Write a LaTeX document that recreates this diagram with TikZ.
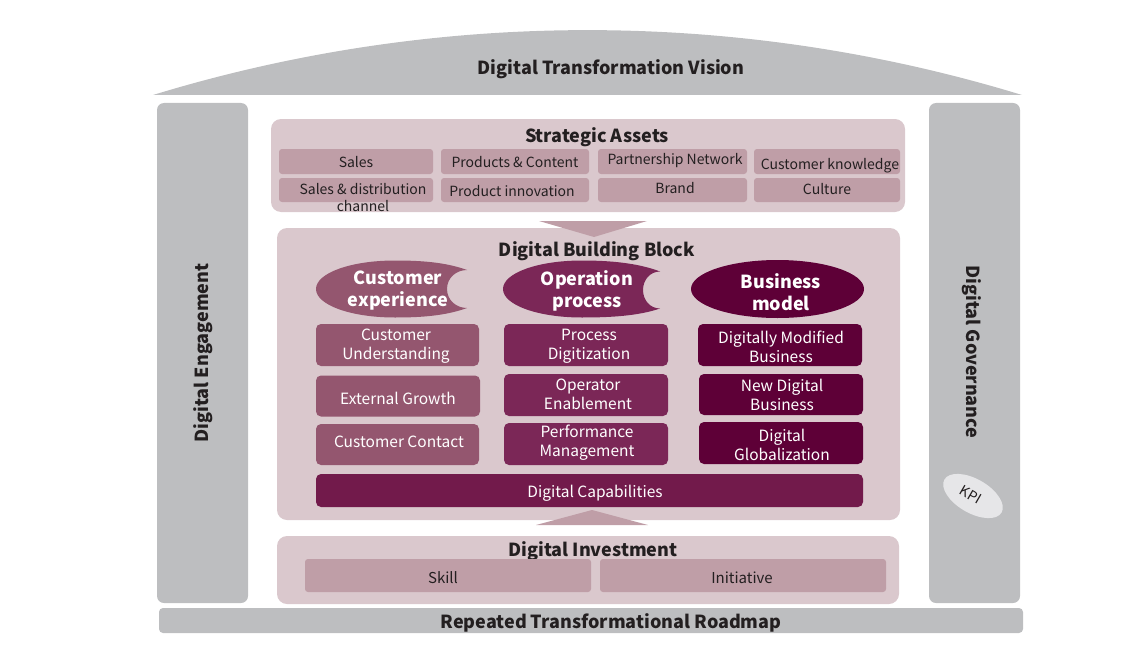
\documentclass[tikz,border=0pt]{standalone}
\usepackage{fontspec}
\setmainfont{Noto Sans CJK KR}
\usetikzlibrary{shapes.geometric}
\definecolor{pillar}{HTML}{BDBEC0}
\definecolor{panel}{HTML}{DAC8CD}
\definecolor{sub}{HTML}{BF9EA7}
\definecolor{cone}{HTML}{94566F}
\definecolor{ctwo}{HTML}{7B2757}
\definecolor{cthree}{HTML}{5E0037}
\definecolor{ccap}{HTML}{721A4B}
\definecolor{kpic}{HTML}{E6E6E8}
\definecolor{ink}{HTML}{231F20}
\begin{document}
\begin{tikzpicture}[x=1pt,y=-1pt,
  every node/.style={inner sep=0pt, text=ink},
  tx/.style={yshift=-2pt, align=center},
  title/.style={tx, font=\bfseries\fontsize{18}{21}\selectfont},
  pillarbox/.style={fill=pillar, rounded corners=7pt},
  panelbox/.style={fill=panel, rounded corners=10pt},
  subbox/.style={fill=sub, rounded corners=3pt},
  subtext/.style={align=center, yshift=-0.5pt, font=\fontsize{14}{17}\selectfont},
  colbox/.style={rounded corners=5pt},
  coltext/.style={align=center, text=white, font=\fontsize{15.5}{19}\selectfont},
  coltwo/.style={coltext, yshift=-0.5pt},
  ovaltext/.style={tx, text=white, font=\bfseries\fontsize{18}{22}\selectfont},
  arrowfill/.style={fill=sub}
]
\useasboundingbox (0,0) rectangle (1123,650);

% Dome
\fill[pillar] (153,95) .. controls (436,8.5) and (739,8.5) .. (1022,95) -- cycle;
\node[title] (vision) at (611,67) {Digital Transformation Vision};

% Pillars
\node[pillarbox, minimum width=91pt, minimum height=500pt] (leftp) at (202.5,353) {};
\node[title, rotate=90, yshift=0pt, xshift=-2pt] (engage) at (203,349) {Digital Engagement};
\node[pillarbox, minimum width=91pt, minimum height=500pt] (rightp) at (974.5,353) {};
\node[title, rotate=-90, yshift=0pt, xshift=2pt] (govern) at (972,348) {Digital Governance};
\node[ellipse, fill=kpic, minimum width=66pt, minimum height=34pt, rotate=-30] (kpi) at (973,496) {};
\node[rotate=-30, font=\fontsize{14}{17}\selectfont] (kpit) at (971,495) {KPI};

% Roadmap bar
\node[fill=pillar, rounded corners=4pt, minimum width=864pt, minimum height=25pt] (roadbar) at (591,620.5) {};
\node[title] (roadmap) at (611,621) {Repeated Transformational Roadmap};

% Strategic Assets
\node[panelbox, minimum width=634pt, minimum height=93pt] (sapanel) at (588,165.5) {};
\node[title] (satitle) at (597,135) {Strategic Assets};
\node[subbox, minimum width=154pt, minimum height=25pt] (sales) at (356,161.5) {};
\node[subtext] (salest) at (356,162) {Sales};
\node[subbox, minimum width=148pt, minimum height=25pt] (prodcont) at (515,161.5) {};
\node[subtext] (prodcontt) at (515,162) {Products \& Content};
\node[subbox, minimum width=149pt, minimum height=25pt] (partner) at (672.5,161.5) {};
\node[subtext] (partnert) at (675,160) {Partnership Network};
\node[subbox, minimum width=146pt, minimum height=25pt] (custk) at (827,161.5) {};
\node[subtext] (custkt) at (830,165) {Customer knowledge};
\node[subbox, minimum width=154pt, minimum height=24pt] (salesdist) at (356,190) {};
\node[subtext, yshift=-1pt] (salesdistt) at (363,196.5) {Sales \& distribution\\channel};
\node[subbox, minimum width=148pt, minimum height=24pt] (prodinno) at (515,190) {};
\node[subtext] (prodinnot) at (512,191) {Product innovation};
\node[subbox, minimum width=149pt, minimum height=24pt] (brand) at (672.5,190) {};
\node[subtext] (brandt) at (675,188) {Brand};
\node[subbox, minimum width=146pt, minimum height=24pt] (culture) at (827,190) {};
\node[subtext] (culturet) at (827,189) {Culture};

% Digital Building Block panel
\node[panelbox, minimum width=623pt, minimum height=292pt] (dbbpanel) at (588.5,374) {};
\fill[arrowfill] (539,221) -- (647,221) -- (594,237) -- cycle;
\node[title] (dbbtitle) at (597,249) {Digital Building Block};

% Ovals (notched)
\fill[cone] (467,270) .. controls (445,262) and (420,260.5) .. (395,260.5)
  .. controls (351,260.5) and (316,273) .. (316,289)
  .. controls (316,305) and (351,317.5) .. (395,317.5)
  .. controls (420,317.5) and (445,316) .. (467,308)
  .. controls (456,308) and (447,300) .. (447,289)
  .. controls (447,278) and (456,270) .. (467,270) -- cycle;
\node[ovaltext] (custexp) at (398,289) {Customer\\experience};

\fill[ctwo] (660,271.5) .. controls (638,263) and (610,260.5) .. (582,260.5)
  .. controls (538,260.5) and (503,273) .. (503,289)
  .. controls (503,305) and (538,317.5) .. (582,317.5)
  .. controls (610,317.5) and (638,316) .. (660,308.5)
  .. controls (650,308.5) and (643,300) .. (643,290)
  .. controls (643,280) and (650,271.5) .. (660,271.5) -- cycle;
\node[ovaltext] (opproc) at (587,289) {Operation\\process};

\node[ellipse, fill=cthree, minimum width=173pt, minimum height=58pt] (bmoval) at (777.5,289) {};
\node[ovaltext] (bmodel) at (781,290) {Business\\model};

% Column boxes
\node[colbox, fill=cone, minimum width=163pt, minimum height=42pt] (cu) at (397.5,345) {};
\node[coltwo] (cut) at (396,345.5) {Customer\\Understanding};
\node[colbox, fill=cone, minimum width=164pt, minimum height=41pt] (eg) at (398,396) {};
\node[coltext] (egt) at (398,398) {External Growth};
\node[colbox, fill=cone, minimum width=163pt, minimum height=41pt] (cc) at (397.5,444.5) {};
\node[coltext] (cct) at (399,442) {Customer Contact};

\node[colbox, fill=ctwo, minimum width=164pt, minimum height=42pt] (pd) at (586,345) {};
\node[coltwo] (pdt) at (589,346) {Process\\Digitization};
\node[colbox, fill=ctwo, minimum width=164pt, minimum height=42pt] (oe) at (586,395) {};
\node[coltwo] (oet) at (588,394) {Operator\\Enablement};
\node[colbox, fill=ctwo, minimum width=164pt, minimum height=42pt] (pm) at (586,444) {};
\node[coltwo] (pmt) at (587,442.5) {Performance\\Management};

\node[colbox, fill=cthree, minimum width=164pt, minimum height=42pt] (dmb) at (780,345) {};
\node[coltwo] (dmbt) at (781,346.5) {Digitally Modified\\Business};
\node[colbox, fill=cthree, minimum width=164pt, minimum height=41pt] (ndb) at (781,394.5) {};
\node[coltwo] (ndbt) at (782,394.5) {New Digital\\Business};
\node[colbox, fill=cthree, minimum width=164pt, minimum height=42pt] (dg) at (781,443) {};
\node[coltwo] (dgt) at (782,444.5) {Digital\\Globalization};

\node[colbox, fill=ccap, minimum width=547pt, minimum height=33pt] (dcap) at (589.5,490.5) {};
\node[coltext] (dcapt) at (595,493) {Digital Capabilities};

% Digital Investment
\node[panelbox, minimum width=622pt, minimum height=68pt] (dipanel) at (588,570) {};
\fill[arrowfill] (536,525) -- (648,525) -- (592,510) -- cycle;
\node[title] (dititle) at (593,549) {Digital Investment};
\node[subbox, minimum width=286pt, minimum height=33pt] (skill) at (448,575.5) {};
\node[subtext, font=\fontsize{15}{18}\selectfont] (skillt) at (443,577) {Skill};
\node[subbox, minimum width=286pt, minimum height=33pt] (initiative) at (743,575.5) {};
\node[subtext, font=\fontsize{15}{18}\selectfont] (initiativet) at (742,577) {Initiative};
\end{tikzpicture}
\end{document}
